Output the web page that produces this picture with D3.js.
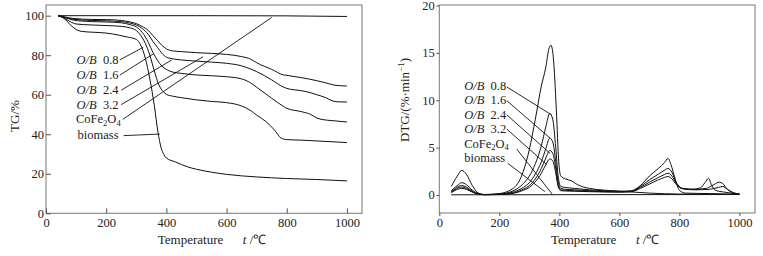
<!DOCTYPE html>
<html>
<head>
<meta charset="utf-8">
<script src="https://cdn.jsdelivr.net/npm/d3@7"></script>
<style>
    body { margin: 0; background: #fff; }
    svg text { font-family: "Liberation Serif", "Times New Roman", serif; fill: #222; }
</style>
</head>
<body>
<svg id="chart" width="763" height="256"></svg>
<script>
// --- Data: [temperature °C, value] ---
const tgOB08 = [[40,100],[60,98.8],[80,97],[100,95.8],[150,95.3],[200,95],[250,94.6],[280,93.8],[300,92.5],[315,90],[330,86],[345,80],[360,72],[375,65],[390,61.5],[400,60.2],[420,59.3],[450,58.5],[500,57.4],[550,56.6],[600,56],[650,54.3],[680,52],[700,49.7],[730,46.5],[760,42],[780,38.2],[800,37.3],[850,37],[900,36.6],[950,36.2],[1000,35.8]];
const tgOB16 = [[40,100],[60,99.2],[90,97.8],[150,97],[200,96.8],[250,96.4],[280,95.4],[300,94.3],[320,91.5],[340,86.5],[355,81.5],[370,77.5],[385,74.5],[400,72.8],[420,71.5],[450,70.8],[500,70],[550,69.6],[600,69.1],[650,68],[680,66],[700,63.8],[750,58.2],[790,54],[800,53.1],[850,51.4],[880,50],[900,48.2],[920,47.4],[950,46.9],[1000,46.2]];
const tgOB24 = [[40,100],[60,99.3],[90,98.2],[150,97.6],[200,97.4],[250,97],[280,96.2],[300,95.3],[320,93.5],[340,90.5],[355,87],[370,84],[385,81],[400,79],[420,78.2],[450,77.6],[500,77],[550,76.5],[600,75.9],[650,74.6],[680,73],[700,71.7],[750,67.5],[790,63.8],[800,63.2],[850,62],[880,61],[900,60],[930,58.5],[950,57],[970,56.4],[1000,56.3]];
const tgOB32 = [[40,100],[60,99.4],[90,98.6],[150,98.1],[200,98],[250,97.6],[280,96.8],[300,96],[320,94.5],[340,92.5],[355,90],[370,87.5],[385,85],[400,83.2],[420,82.2],[450,81.8],[500,81.3],[550,80.9],[600,80.4],[650,79.3],[680,78],[700,76.2],[750,72.8],[790,70],[800,69.8],[850,68.6],[900,67.1],[930,66],[960,64.8],[1000,64.4]];
const tgCoFe = [[40,100],[500,100],[800,99.9],[1000,99.6]];
const tgBiomass = [[40,100],[60,98.6],[80,95.5],[100,93],[120,92],[160,91.6],[200,91.2],[240,90.2],[270,89.2],[300,88],[315,85],[330,78.5],[345,68],[360,54.5],[372,41],[382,33.5],[392,29.6],[400,28],[430,26],[470,23.5],[500,22.3],[550,20.8],[600,19.7],[700,18.4],[800,17.6],[900,17.1],[1000,16.4]];

const dtgOB08 = [[40,0.45],[60,1.0],[75,1.3],[90,1.1],[110,0.5],[130,0.15],[150,0.05],[200,0.1],[250,0.5],[280,1.2],[300,2.0],[320,3.3],[340,5.2],[355,7.2],[368,8.6],[378,8.0],[388,5],[396,2.0],[405,0.9],[420,0.8],[450,0.7],[500,0.55],[600,0.4],[640,0.45],[670,1.0],[700,2.0],[730,2.8],[750,3.4],[762,3.85],[772,3.2],[785,1.8],[800,0.5],[820,0.2],[900,0.15],[1000,0.08]];
const dtgOB16 = [[40,0.35],[75,1.0],[90,0.85],[110,0.4],[130,0.1],[150,0.04],[200,0.08],[250,0.35],[280,0.8],[300,1.3],[320,2.2],[340,3.5],[355,4.9],[368,6.0],[378,5.6],[388,3.5],[396,1.4],[405,0.7],[420,0.6],[450,0.55],[500,0.45],[600,0.35],[640,0.4],[670,0.9],[700,1.6],[730,2.2],[750,2.6],[762,2.8],[775,2.4],[790,1.3],[810,0.7],[840,0.6],[870,0.75],[885,1.3],[897,1.75],[908,1.0],[920,0.5],[950,0.3],[1000,0.1]];
const dtgOB24 = [[40,0.3],[75,0.85],[90,0.7],[110,0.35],[130,0.1],[150,0.03],[200,0.06],[250,0.25],[280,0.6],[300,1.0],[320,1.7],[340,2.8],[355,3.9],[368,4.7],[378,4.4],[388,2.8],[396,1.1],[405,0.55],[420,0.5],[450,0.45],[500,0.4],[600,0.33],[640,0.38],[670,0.8],[700,1.35],[730,1.85],[750,2.15],[762,2.3],[775,2.0],[790,1.2],[810,0.7],[850,0.6],[890,0.7],[915,1.1],[933,1.35],[945,1.2],[960,0.6],[980,0.2],[1000,0.1]];
const dtgOB32 = [[40,0.25],[75,0.7],[90,0.6],[110,0.3],[130,0.08],[150,0.03],[200,0.05],[250,0.2],[280,0.5],[300,0.8],[320,1.4],[340,2.3],[355,3.2],[368,3.8],[378,3.6],[388,2.3],[396,0.9],[405,0.45],[420,0.42],[450,0.4],[500,0.35],[600,0.3],[640,0.35],[670,0.7],[700,1.15],[730,1.6],[750,1.85],[762,1.95],[775,1.7],[790,1.1],[810,0.65],[850,0.55],[900,0.6],[930,0.8],[945,0.9],[960,0.6],[980,0.25],[1000,0.1]];
const dtgCoFe = [[40,0.02],[1000,0.05]];
const dtgBiomass = [[40,0.9],[60,2.0],[75,2.6],[90,2.2],[110,1.0],[130,0.2],[150,0.05],[200,0.15],[250,0.8],[280,2.5],[300,4.8],[320,8],[340,11.5],[355,13.5],[365,15.4],[372,15.8],[380,14.5],[390,9],[398,3.5],[405,2.0],[420,1.7],[440,1.5],[460,1.1],[500,0.7],[600,0.4],[650,0.3],[700,0.2],[800,0.1],[1000,0.05]];

const xTicks = [0, 200, 400, 600, 800, 1000];
const tgTicks = [0, 20, 40, 60, 80, 100];
const dtgTicks = [0, 5, 10, 15, 20];

const seriesNames = ["0.8", "1.6", "2.4", "3.2", "CoFe2O4", "biomass"];

const svg = d3.select("#chart");

// label text pieces: italic O/B, subscripts for CoFe2O4
function labelParts(name) {
    if (name === "CoFe2O4") return [{t: "CoFe"}, {t: "2", sub: true}, {t: "O"}, {t: "4", sub: true}];
    if (name === "biomass") return [{t: "biomass"}];
    return [{t: "O/B", it: true}, {t: "\u00a0\u00a0" + name}];
}

function addLabel(g, x, y, anchor, name) {
    const txt = g.append("text")
        .attr("x", x).attr("y", y)
        .attr("text-anchor", anchor)
        .style("font-size", "12.5px");
    let shifted = false;
    labelParts(name).forEach(p => {
        const ts = txt.append("tspan").text(p.t);
        if (p.it) ts.style("font-style", "italic");
        if (p.sub) { ts.attr("dy", 2.5).style("font-size", "8.5px"); shifted = true; }
        else if (shifted) { ts.attr("dy", -2.5); shifted = false; }
    });
}

function drawPanel(cfg) {
    const x = d3.scaleLinear().domain(cfg.xDomain).range(cfg.xRange);
    const y = d3.scaleLinear().domain(cfg.yDomain).range(cfg.yRange);
    const g = svg.append("g");

    // frame
    g.append("rect")
        .attr("x", cfg.xRange[0]).attr("y", cfg.yRange[1])
        .attr("width", cfg.xRange[1] - cfg.xRange[0])
        .attr("height", cfg.yRange[0] - cfg.yRange[1])
        .attr("fill", "none").attr("stroke", "#777").attr("stroke-width", 1);

    // axes
    const xa = g.append("g")
        .attr("transform", `translate(0,${cfg.yRange[0]})`)
        .call(d3.axisBottom(x).tickValues(xTicks).tickFormat(d3.format("d"))
            .tickSize(cfg.tick).tickPadding(cfg.xPad));
    const ya = g.append("g")
        .attr("transform", `translate(${cfg.xRange[0]},0)`)
        .call(d3.axisLeft(y).tickValues(cfg.yTicks).tickFormat(d3.format("d"))
            .tickSize(cfg.tick).tickPadding(cfg.yPad));
    [xa, ya].forEach(a => {
        a.select(".domain").remove();
        a.selectAll(".tick line").attr("stroke", "#555");
        a.selectAll("text").style("font-size", "12.5px").style("font-family", "'Liberation Serif', serif").attr("fill", "#222");
    });

    // curves
    const line = d3.line().x(d => x(d[0])).y(d => y(d[1])).curve(d3.curveMonotoneX);
    g.selectAll("path.curve")
        .data(cfg.series)
        .join("path")
        .attr("class", "curve")
        .attr("d", line)
        .attr("fill", "none")
        .attr("stroke", "#111")
        .attr("stroke-width", 1);

    // labels and leader lines
    cfg.notes.forEach((n, i) => {
        addLabel(g, x(n.at[0]), y(n.at[1]), cfg.anchor, seriesNames[i]);
        g.append("line")
            .attr("x1", x(n.from[0])).attr("y1", y(n.from[1]))
            .attr("x2", x(n.to[0])).attr("y2", y(n.to[1]))
            .attr("stroke", "#111").attr("stroke-width", 0.9);
    });

    // axis titles
    const cx = (cfg.xRange[0] + cfg.xRange[1]) / 2;
    const xt = g.append("text")
        .attr("x", cx + 8).attr("y", 244)
        .attr("text-anchor", "middle")
        .style("font-size", "13px");
    xt.append("tspan").text("Temperature\u00a0\u00a0\u00a0\u00a0\u00a0\u00a0");
    xt.append("tspan").text("t").style("font-style", "italic");
    xt.append("tspan").text(" /\u2103");

    const yt = g.append("text")
        .attr("transform", `translate(${cfg.yTitleX},${cfg.yTitleY}) rotate(-90)`)
        .attr("text-anchor", "middle")
        .style("font-size", "13px");
    cfg.yTitle.forEach(p => {
        const ts = yt.append("tspan").text(p.t);
        if (p.sup) ts.attr("dy", -5).style("font-size", "9px");
        else if (p.after) ts.attr("dy", 5);
    });
}

drawPanel({
    xDomain: [0, 1050], xRange: [46, 362],
    yDomain: [0, 105.4], yRange: [213.3, 5],
    yTicks: tgTicks, tick: -5, xPad: 4.5, yPad: 2,
    series: [tgOB08, tgOB16, tgOB24, tgOB32, tgCoFe, tgBiomass],
    anchor: "end",
    notes: [
        {at: [241, 75.4], from: [245, 77.6], to: [323, 84.0]},
        {at: [241, 67.8], from: [245, 69.9], to: [356, 80.6]},
        {at: [241, 60.2], from: [250, 62.3], to: [417, 77.5]},
        {at: [241, 52.8], from: [250, 55.0], to: [522, 79.2]},
        {at: [248, 45.5], from: [255, 47.5], to: [750, 99.1]},
        {at: [241, 37.4], from: [258, 39.3], to: [378, 40.1]}
    ],
    yTitle: [{t: "TG/%"}],
    yTitleX: 19, yTitleY: 116
});

drawPanel({
    xDomain: [0, 1052], xRange: [439.3, 755],
    yDomain: [-1.9, 20.05], yRange: [213, 5],
    yTicks: dtgTicks, tick: 3, xPad: 1.8, yPad: 1.5,
    series: [dtgOB08, dtgOB16, dtgOB24, dtgOB32, dtgCoFe, dtgBiomass],
    anchor: "start",
    notes: [
        {at: [83, 11.05], from: [225, 11.4], to: [372, 8.5]},
        {at: [83, 9.55], from: [225, 9.95], to: [369, 6.0]},
        {at: [83, 8.05], from: [225, 8.45], to: [369, 4.4]},
        {at: [83, 6.55], from: [225, 6.95], to: [358, 3.2]},
        {at: [83, 5.0], from: [258, 4.85], to: [376, 0.1]},
        {at: [83, 3.45], from: [228, 3.35], to: [352, 0.35]}
    ],
    yTitle: [{t: "DTG/(%\u00b7min"}, {t: "\u22121", sup: true}, {t: ")", after: true}],
    yTitleX: 409, yTitleY: 100
});
</script>
</body>
</html>
